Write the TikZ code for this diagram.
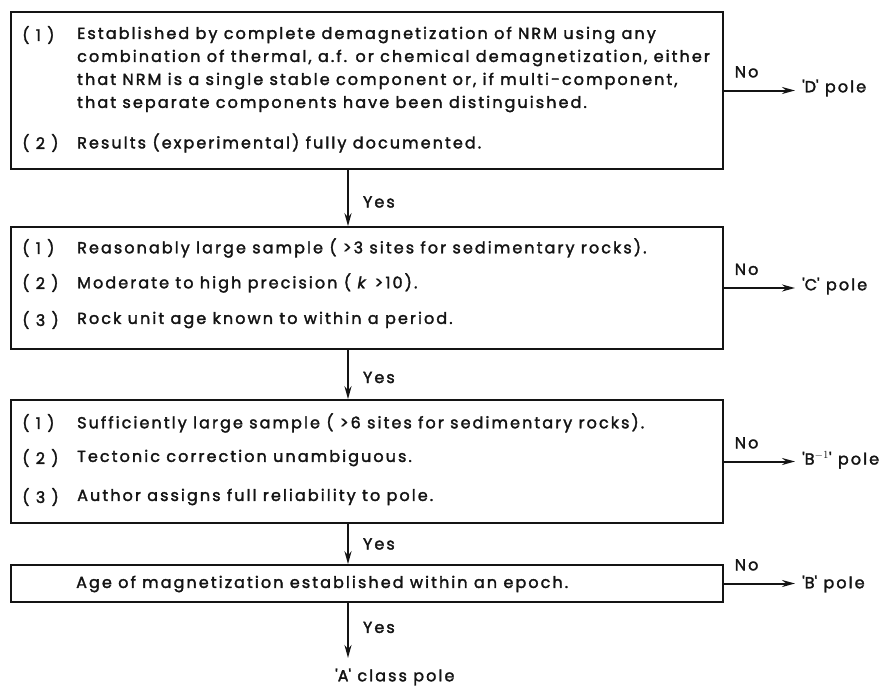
\documentclass[tikz,border=0pt]{standalone}
\usepackage{fontspec}
\setmainfont{Poppins}[LetterSpace=13, FakeBold=2]
\usepackage{tikz}
\usetikzlibrary{arrows.meta,positioning}
\definecolor{inkblack}{HTML}{141414}
\newcommand{\polename}[1]{\textquotesingle#1\textquotesingle\ pole}

\tikzset{
  critbox/.style={draw=inkblack, line width=1.6pt, minimum width=712pt, minimum height=#1, inner sep=0pt},
  critline/.style={anchor=west, inner sep=0pt, font=\fontsize{16}{18}\selectfont\color{inkblack}},
  flowarrow/.style={draw=inkblack, line width=2pt, -{Stealth[length=13pt,width=7pt]}},
  answer/.style={font=\fontsize{16}{18}\selectfont\color{inkblack}, inner sep=0pt},
  polelabel/.style={anchor=west, inner xsep=7pt, inner ysep=0pt, font=\fontsize{16}{18}\selectfont\color{inkblack}}
}

\begin{document}
\begin{tikzpicture}[x=1pt,y=-1pt]
  \useasboundingbox (0,0) rectangle (892,688);
  % the four tests
  \node[critbox=157pt] (crit1) at (367,90.5) {};
  \node[critbox=122pt] (crit2) at (367,288) {};
  \node[critbox=123pt] (crit3) at (367,461.5) {};
  \node[critbox=37pt] (crit4) at (367,583.5) {};
  \coordinate (spine) at (348,0);
  % test 1
  \node[critline] (c1n1) at (22,35) {( 1 )};
  \node[critline] (c1n2) at (22,143) {( 2 )};
  \foreach \y/\t [count=\i] in {35/{Established by complete demagnetization of NRM using any},
      58/{combination of thermal, a.f. or chemical demagnetization, either},
      81/{that NRM is a single stable component or, if multi-component,},
      104/{that separate components have been distinguished.},
      143/{Results (experimental) fully documented.}}
    \node[critline] (c1t\i) at (77,\y) {\t};
  % test 2
  \foreach \y/\n/\t in {248/1/{Reasonably large sample ( >3 sites for sedimentary rocks).},
      283/2/{Moderate to high precision ( \textit{k} >10).},
      320/3/{Rock unit age known to within a period.}}{
    \node[critline] (c2n\n) at (22,\y) {( \n\ )};
    \node[critline] (c2t\n) at (77,\y) {\t};
  }
  % test 3
  \foreach \y/\n/\t in {423/1/{Sufficiently large sample ( >6 sites for sedimentary rocks).},
      458/2/{Tectonic correction unambiguous.},
      497/3/{Author assigns full reliability to pole.}}{
    \node[critline] (c3n\n) at (22,\y) {( \n\ )};
    \node[critline] (c3t\n) at (77,\y) {\t};
  }
  % test 4
  \node[critline] (c4t1) at (76,584) {Age of magnetization established within an epoch.};
  % outcomes
  \node[polelabel] (dpole) at (795,88) {\polename{D}};
  \node[polelabel] (cpole) at (795,286) {\polename{C}};
  \node[polelabel] (bmpole) at (795,460) {\textquotesingle B$^{-1}$\textquotesingle\ pole};
  \node[polelabel] (bpole) at (795,584) {\polename{B}};
  \node[anchor=west, inner sep=0pt, font=\fontsize{16}{18}\selectfont\color{inkblack}] (apole) at (335,677) {\textquotesingle A\textquotesingle\ class pole};
  \coordinate (aend) at (348,658);
  % No branches
  \foreach \c/\p in {crit1/dpole, crit2/cpole, crit3/bmpole, crit4/bpole}
    \draw[flowarrow] (\c.east) -- (\c.east -| \p.west)
      node[answer, pos=0, anchor=south west, xshift=10pt, yshift=12pt] (no\c) {No};
  % Yes branches
  \draw[flowarrow] (crit1.south -| spine) -- (crit2.north -| spine) node[answer, midway, anchor=west, xshift=14pt, yshift=-4pt] (yes1) {Yes};
  \draw[flowarrow] (crit2.south -| spine) -- (crit3.north -| spine) node[answer, midway, anchor=west, xshift=14pt, yshift=-3pt] (yes2) {Yes};
  \draw[flowarrow] (crit3.south -| spine) -- (crit4.north -| spine) node[answer, midway, anchor=west, xshift=14pt] (yes3) {Yes};
  \draw[flowarrow] (crit4.south -| spine) -- (aend) node[answer, midway, anchor=west, xshift=14pt, yshift=3pt] (yes4) {Yes};
\end{tikzpicture}
\end{document}
